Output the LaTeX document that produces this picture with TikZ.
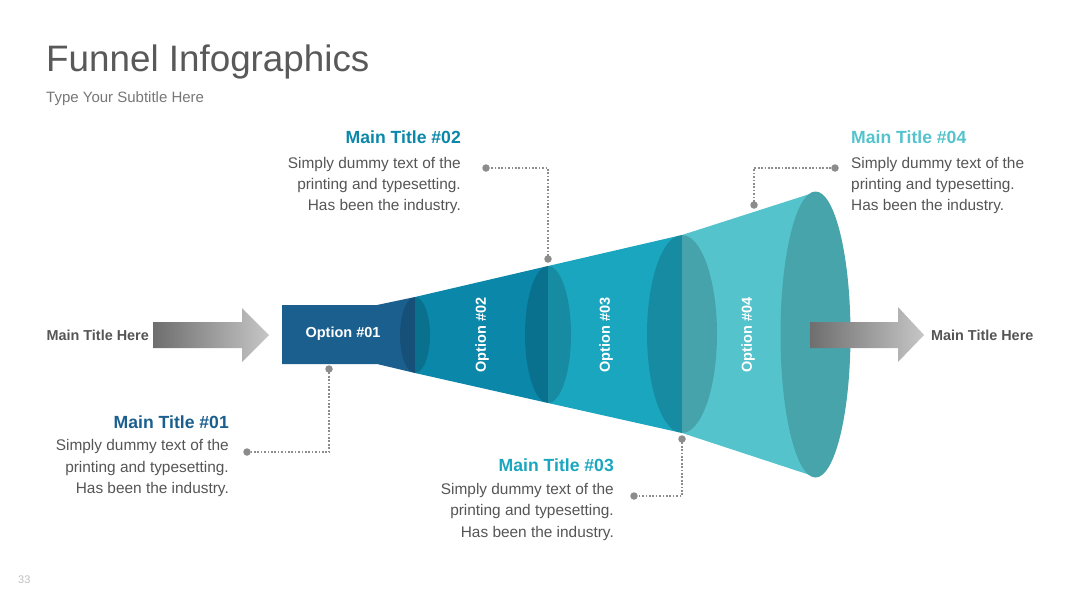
\documentclass[tikz,border=0pt]{standalone}
\usepackage{fontspec}
\setmainfont{Liberation Sans}
\usetikzlibrary{calc}
\definecolor{segA}{HTML}{1B5F8E}
\definecolor{segB}{HTML}{0B87A9}
\definecolor{segC}{HTML}{1BA6C0}
\definecolor{segD}{HTML}{54C3CC}
\definecolor{txtgray}{HTML}{555555}
\definecolor{titlegray}{HTML}{595959}
\definecolor{subgray}{HTML}{777777}
\definecolor{dotgray}{HTML}{8C8C8C}
\definecolor{arrowdark}{HTML}{6E6E6E}
\definecolor{arrowlight}{HTML}{C6C6C6}
\tikzset{
  rim/.style={fill=black, fill opacity=0.16, draw=none},
  optlabel/.style={text=white, font=\bfseries\fontsize{14.5}{16}\selectfont, inner sep=0pt},
  headtitle/.style={font=\bfseries\fontsize{17.6}{20}\selectfont, inner sep=0pt},
  bodytext/.style={text=txtgray, font=\fontsize{15.4}{21.3}\selectfont, inner sep=0pt},
  sidelabel/.style={text=txtgray, font=\bfseries\fontsize{14.4}{16}\selectfont, inner sep=0pt},
  leader/.style={dotgray, line width=1.7pt, dash pattern=on 1.7pt off 1.7pt},
  enddot/.style={circle, fill=dotgray, minimum size=7.5pt, inner sep=0pt},
}
\begin{document}
\begin{tikzpicture}[x=1pt, y=-1pt]
\useasboundingbox (0,0) rectangle (1080,608);
% title
\node[anchor=base west, text=titlegray, inner sep=0pt, font=\fontsize{36.8}{40}\selectfont] (title) at (46,71) {Funnel Infographics};
\node[anchor=base west, text=subgray, inner sep=0pt, font=\fontsize{15}{16}\selectfont] (subtitle) at (46,102) {Type Your Subtitle Here};
\node[anchor=base west, text=black!25, inner sep=0pt, font=\fontsize{11}{12}\selectfont] (pagenum) at (18,583) {33};

% funnel segments
\fill[segA] (282,305) -- (377,305) -- (415,297) -- (415,373) -- (377,364) -- (282,364) -- cycle;
\fill[segB] (415,297) -- (548,266) -- (548,403) -- (415,373) -- cycle;
\fill[segC] (548,266) -- (682,235) -- (682,433) -- (548,403) -- cycle;
\fill[segD] (682,235) -- (816,192) -- (816,477) -- (682,433) -- cycle;
\fill[rim] (415,335) ellipse [x radius=15, y radius=38];
\fill[rim] (548,334.5) ellipse [x radius=23, y radius=68.5];
\fill[rim] (682,334) ellipse [x radius=35, y radius=99];
\fill[segD!84!black] (815.5,334.5) ellipse [x radius=35, y radius=143];

% option labels
\node[optlabel] (opt1) at (343,334) {Option \#01};
\node[optlabel, rotate=90] (opt2) at (482,335) {Option \#02};
\node[optlabel, rotate=90] (opt3) at (606,335) {Option \#03};
\node[optlabel, rotate=90] (opt4) at (748,335) {Option \#04};

% arrows
\shade[left color=arrowdark, right color=arrowlight]
  (153,322) -- (242,322) -- (242,308) -- (269,335) -- (242,362) -- (242,348) -- (153,348) -- cycle;
\shade[left color=arrowdark, right color=arrowlight]
  (810,322) -- (898,322) -- (898,307) -- (924,335) -- (898,362) -- (898,348) -- (810,348) -- cycle;
\node[sidelabel, anchor=east] (inlabel) at (149,335) {Main Title Here};
\node[sidelabel, anchor=west] (outlabel) at (931,335) {Main Title Here};

% text blocks (base anchor = baseline of last line)
\node[headtitle, text=segB, anchor=base east] (t2) at (461,143) {Main Title \#02};
\node[bodytext, anchor=base east, align=right] (b2) at (461,210.6) {Simply dummy text of the\\printing and typesetting.\\Has been the industry.};
\node[headtitle, text=segD, anchor=base west] (t4) at (851,143) {Main Title \#04};
\node[bodytext, anchor=base west, align=left] (b4) at (851,210.6) {Simply dummy text of the\\printing and typesetting.\\Has been the industry.};
\node[headtitle, text=segA, anchor=base east] (t1) at (229,428) {Main Title \#01};
\node[bodytext, anchor=base east, align=right] (b1) at (229,493.5) {Simply dummy text of the\\printing and typesetting.\\Has been the industry.};
\node[headtitle, text=segC, anchor=base east] (t3) at (614,471) {Main Title \#03};
\node[bodytext, anchor=base east, align=right] (b3) at (614,537) {Simply dummy text of the\\printing and typesetting.\\Has been the industry.};

% leader lines
\coordinate (c1a) at (329,369);
\coordinate (c1b) at (247,452);
\coordinate (c2a) at (548,259);
\coordinate (c2b) at (486,168);
\coordinate (c3a) at (682,439);
\coordinate (c3b) at (634,496);
\coordinate (c4a) at (754,205);
\coordinate (c4b) at (835,168);
\draw[leader] (c1a) |- (c1b);
\draw[leader] (c2a) |- (c2b);
\draw[leader] (c3a) |- (c3b);
\draw[leader] (c4a) |- (c4b);
\foreach \c in {c1a,c1b,c2a,c2b,c3a,c3b,c4a,c4b}
  \node[enddot] at (\c) {};
\end{tikzpicture}
\end{document}
